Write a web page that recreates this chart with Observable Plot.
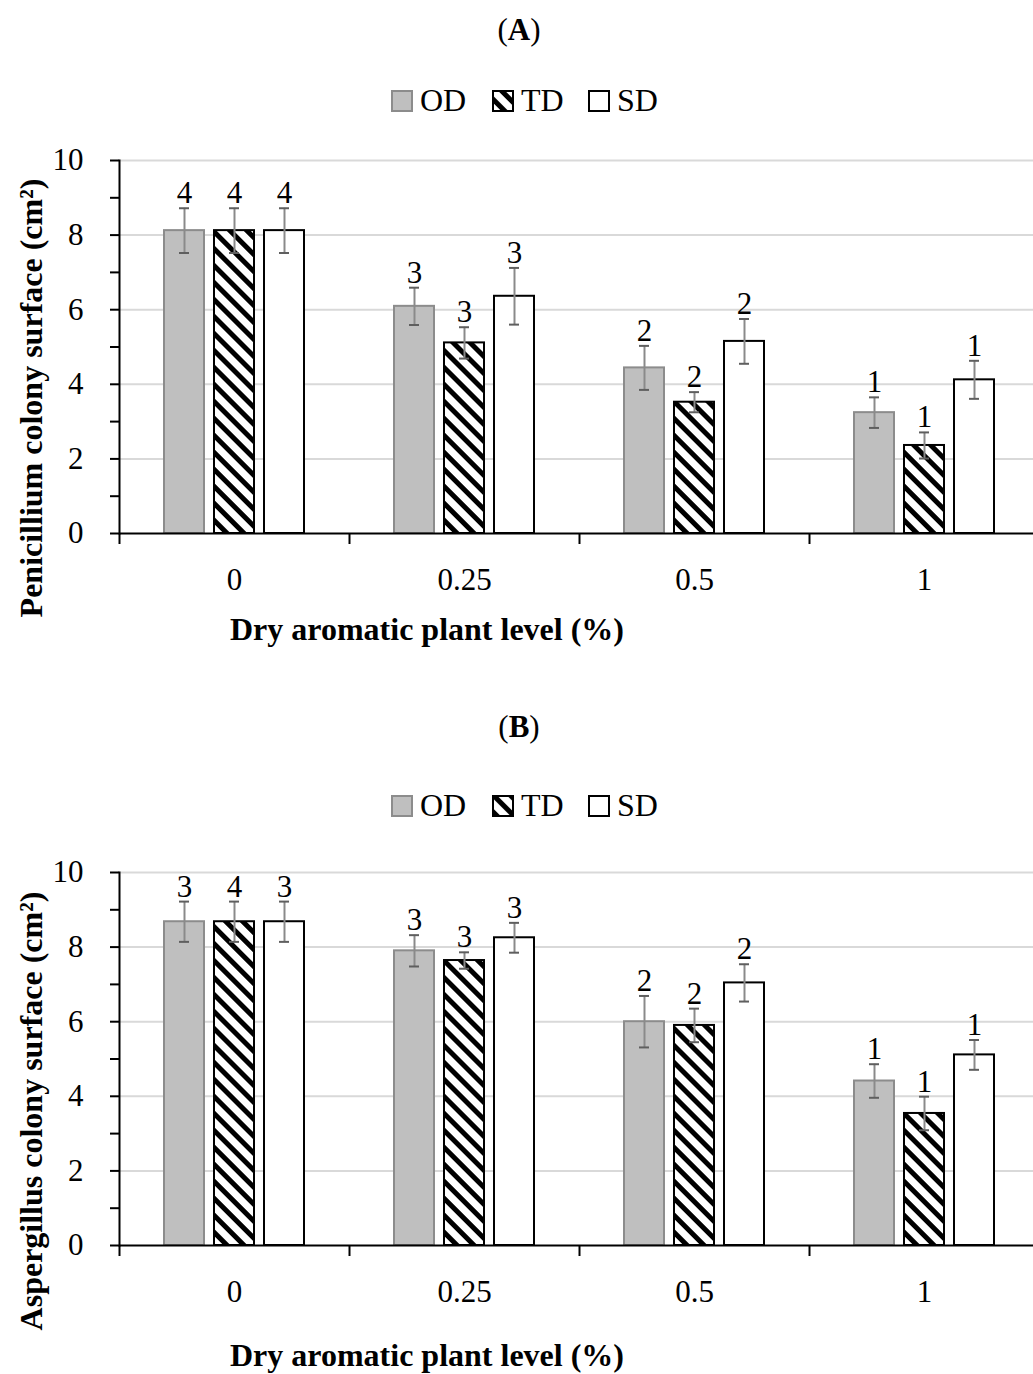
<!DOCTYPE html>
<html>
<head>
<meta charset="utf-8">
<script src="https://cdn.jsdelivr.net/npm/d3@7"></script>
<script src="https://cdn.jsdelivr.net/npm/@observablehq/plot@0.6"></script>
<style>
  html, body { margin: 0; padding: 0; background: #fff; overflow: hidden; }
  #page { position: relative; width: 1033px; height: 1374px; overflow: hidden; background: #fff; }
  #page > svg { position: absolute; left: 0; max-width: none !important; }
</style>
</head>
<body>
<svg width="0" height="0" style="position:absolute">
  <defs>
    <pattern id="hatch" patternUnits="userSpaceOnUse" width="12" height="12" patternTransform="rotate(-45)">
      <rect width="12" height="12" fill="#fff"></rect>
      <rect width="5" height="12" fill="#000"></rect>
    </pattern>
  </defs>
</svg>
<div id="page"></div>
<script>
const FONT = "'Liberation Serif', 'Times New Roman', serif";

const categories = ["0", "0.25", "0.5", "1"];
const series = ["OD", "TD", "SD"];
const yTicks = [0, 1, 2, 3, 4, 5, 6, 7, 8, 9, 10];
const gridTicks = [2, 4, 6, 8, 10];

// Panel A: Penicillium colony surface (cm²)
const penicilliumOD = [8.12, 6.09, 4.44, 3.24];
const penicilliumTD = [8.12, 5.11, 3.52, 2.36];
const penicilliumSD = [8.12, 6.36, 5.15, 4.12];
const penicilliumErrOD = [0.60, 0.50, 0.59, 0.41];
const penicilliumErrTD = [0.60, 0.42, 0.27, 0.35];
const penicilliumErrSD = [0.60, 0.76, 0.60, 0.51];
const penicilliumLabelsOD = ["4", "3", "2", "1"];
const penicilliumLabelsTD = ["4", "3", "2", "1"];
const penicilliumLabelsSD = ["4", "3", "2", "1"];

// Panel B: Aspergillus colony surface (cm²)
const aspergillusOD = [8.68, 7.90, 6.00, 4.41];
const aspergillusTD = [8.68, 7.64, 5.90, 3.54];
const aspergillusSD = [8.68, 8.25, 7.04, 5.11];
const aspergillusErrOD = [0.54, 0.42, 0.69, 0.45];
const aspergillusErrTD = [0.54, 0.22, 0.45, 0.45];
const aspergillusErrSD = [0.54, 0.40, 0.50, 0.40];
const aspergillusLabelsOD = ["3", "3", "2", "1"];
const aspergillusLabelsTD = ["4", "3", "2", "1"];
const aspergillusLabelsSD = ["3", "3", "2", "1"];

const seriesStyle = {
  OD: {fill: "#bfbfbf", stroke: "#8c8c8c"},
  TD: {fill: "url(#hatch)", stroke: "#000"},
  SD: {fill: "#ffffff", stroke: "#000"}
};

function rows(means, errs, labels) {
  const out = [];
  series.forEach((s, si) => categories.forEach((c, ci) => {
    out.push({cat: c, series: s, value: means[si][ci], err: errs[si][ci], label: labels[si][ci]});
  }));
  return out;
}

const dataA = rows([penicilliumOD, penicilliumTD, penicilliumSD],
                   [penicilliumErrOD, penicilliumErrTD, penicilliumErrSD],
                   [penicilliumLabelsOD, penicilliumLabelsTD, penicilliumLabelsSD]);
const dataB = rows([aspergillusOD, aspergillusTD, aspergillusSD],
                   [aspergillusErrOD, aspergillusErrTD, aspergillusErrSD],
                   [aspergillusLabelsOD, aspergillusLabelsTD, aspergillusLabelsSD]);

function chart(data) {
  return Plot.plot({
    width: 1040,
    height: 480,
    marginLeft: 119,
    marginRight: 1,
    marginTop: 20,
    marginBottom: 87,
    style: {fontFamily: FONT, fontSize: "30px", color: "#000", background: "transparent", overflow: "visible", maxWidth: "none"},
    fx: {domain: categories, padding: 0},
    x: {domain: series, paddingInner: 0.196, paddingOuter: 0.853, axis: null},
    y: {domain: [0, 10]},
    marks: [
      Plot.gridY({ticks: gridTicks, stroke: "#d9d9d9", strokeOpacity: 1, strokeWidth: 2}),
      ...series.map(s => Plot.barY(data.filter(d => d.series === s), {
        fx: "cat", x: "series", y: "value",
        fill: seriesStyle[s].fill, stroke: seriesStyle[s].stroke, strokeWidth: 2
      })),
      Plot.ruleX(data, {fx: "cat", x: "series", y1: d => d.value - d.err, y2: d => d.value + d.err, stroke: "#8a8a8a", strokeWidth: 2}),
      Plot.tickY(data, {fx: "cat", x: "series", y: d => d.value - d.err, stroke: "#5f5f5f", strokeWidth: 2, insetLeft: 15, insetRight: 15}),
      Plot.tickY(data, {fx: "cat", x: "series", y: d => d.value + d.err, stroke: "#5f5f5f", strokeWidth: 2, insetLeft: 15, insetRight: 15}),
      Plot.text(data, {fx: "cat", x: "series", y: d => d.value + d.err, text: "label", lineAnchor: "bottom", dy: -5, fontSize: 31, fill: "#000"}),
      Plot.ruleY([0], {stroke: "#000", strokeWidth: 2}),
      Plot.frame({anchor: "left", facetAnchor: "left", stroke: "#000", strokeWidth: 2}),
      Plot.axisY({ticks: yTicks, tickSize: 9, tickPadding: 27, strokeWidth: 2,
                  tickFormat: d => d % 2 === 0 ? String(d) : "", label: null, fontSize: 31}),
      Plot.axisFx({anchor: "bottom", tickSize: 11, strokeWidth: 2, tickFormat: () => "", dx: -115, label: null}),
      Plot.axisFx({anchor: "bottom", tickSize: 0, tickPadding: 34, label: null, fontSize: 31})
    ]
  });
}

const page = document.getElementById("page");
const svgA = chart(dataA);
svgA.style.top = "140px";
page.appendChild(svgA);
const svgB = chart(dataB);
svgB.style.top = "852px";
page.appendChild(svgB);

// Annotation overlay: panel titles, legends, axis titles
const ov = d3.select(page).append("svg")
  .attr("width", 1033).attr("height", 1374)
  .style("top", "0px").style("pointer-events", "none")
  .attr("font-family", FONT);

function panelText(o) {
  // title
  const t = ov.append("text").attr("x", 519).attr("y", o.titleY).attr("text-anchor", "middle").attr("font-size", 31);
  t.append("tspan").text("(");
  t.append("tspan").attr("font-weight", "bold").text(o.letter);
  t.append("tspan").text(")");
  // legend
  const legend = [
    {name: "OD", sx: 392, tx: 420},
    {name: "TD", sx: 493, tx: 521},
    {name: "SD", sx: 589, tx: 617}
  ];
  legend.forEach(l => {
    ov.append("rect").attr("x", l.sx).attr("y", o.legendY - 10).attr("width", 20).attr("height", 20)
      .attr("fill", seriesStyle[l.name].fill).attr("stroke", seriesStyle[l.name].stroke).attr("stroke-width", 2);
    ov.append("text").attr("x", l.tx).attr("y", o.legendY + 10).attr("font-size", 32).text(l.name);
  });
  // y title
  ov.append("text")
    .attr("transform", `translate(42,${o.yTitleY}) rotate(-90)`)
    .attr("text-anchor", "middle").attr("font-weight", "bold").attr("font-size", 32)
    .text(o.yTitle);
  // x title
  ov.append("text").attr("x", 427).attr("y", o.xTitleY).attr("text-anchor", "middle")
    .attr("font-weight", "bold").attr("font-size", 32).text("Dry aromatic plant level (%)");
}

panelText({letter: "A", titleY: 40, legendY: 101, yTitleY: 398, xTitleY: 640, yTitle: "Penicillium colony surface (cm²)"});
panelText({letter: "B", titleY: 737, legendY: 806, yTitleY: 1111, xTitleY: 1366, yTitle: "Aspergillus colony surface (cm²)"});
</script>
</body>
</html>
